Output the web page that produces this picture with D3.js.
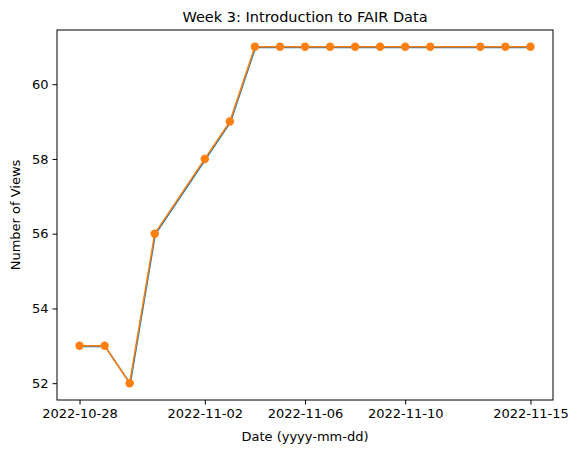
<!DOCTYPE html>
<html><head><meta charset="utf-8">
<script src="https://cdn.jsdelivr.net/npm/d3@7"></script>
<style>body{margin:0;background:#fff}text{font-family:"DejaVu Sans",sans-serif}</style>
</head><body><svg id="c" width="580" height="453"></svg>
<script>
const dates = ["2022-10-28","2022-10-29","2022-10-30","2022-10-31","2022-11-02","2022-11-03","2022-11-04","2022-11-05","2022-11-06","2022-11-07","2022-11-08","2022-11-09","2022-11-10","2022-11-11","2022-11-13","2022-11-14","2022-11-15"];
const views = [53,53,52,56,58,59,61,61,61,61,61,61,61,61,61,61,61];
const xTicks = ["2022-10-28","2022-11-02","2022-11-06","2022-11-10","2022-11-15"];
const yTicks = [52,54,56,58,60];
const parse = d3.utcParse("%Y-%m-%d");
const data = dates.map((d,i)=>({x:parse(d),y:views[i]}));
const L=57,R=553,T=30,B=400;
const day=864e5, x0=parse(dates[0]).getTime(), x1=parse(dates[dates.length-1]).getTime();
const pad=(x1-x0)*0.05;
const x=d3.scaleUtc().domain([new Date(x0-pad),new Date(x1+pad)]).range([L,R]);
const y=d3.scaleLinear().domain([51.55,61.45]).range([B,T]);
const svg=d3.select("#c");
const line=d3.line().x(d=>x(d.x)).y(d=>y(d.y));
svg.append("path").datum(data).attr("d",line).attr("fill","none").attr("stroke","#1f77b4").attr("stroke-width",1.5).attr("transform","translate(0.6,0.6)");
svg.append("path").datum(data).attr("d",line).attr("fill","none").attr("stroke","#ff7f0e").attr("stroke-width",1.5);
svg.selectAll("circle").data(data).join("circle").attr("cx",d=>x(d.x)).attr("cy",d=>y(d.y)).attr("r",4.2).attr("fill","#ff7f0e");
const xa=svg.append("g").attr("transform",`translate(0,${B})`).call(d3.axisBottom(x).tickValues(xTicks.map(parse)).tickFormat(d3.utcFormat("%Y-%m-%d")).tickSizeOuter(0).tickSize(4.5).tickPadding(4));
const ya=svg.append("g").attr("transform",`translate(${L},0)`).call(d3.axisLeft(y).tickValues(yTicks).tickSizeOuter(0).tickSize(4.5).tickPadding(4));
[xa,ya].forEach(a=>{a.select(".domain").remove();a.selectAll("text").attr("font-size",13).attr("fill","#000").attr("font-family","DejaVu Sans");a.selectAll("line").attr("stroke","#000");});
svg.append("rect").attr("x",L).attr("y",T).attr("width",R-L).attr("height",B-T).attr("fill","none").attr("stroke","#000").attr("stroke-width",1);
svg.append("text").attr("x",(L+R)/2).attr("y",22).attr("text-anchor","middle").attr("font-size",14.5).text("Week 3: Introduction to FAIR Data");
svg.append("text").attr("x",(L+R)/2).attr("y",441).attr("text-anchor","middle").attr("font-size",13).text("Date (yyyy-mm-dd)");
svg.append("text").attr("transform",`translate(20,${(T+B)/2}) rotate(-90)`).attr("text-anchor","middle").attr("font-size",13).text("Number of Views");
</script></body></html>
